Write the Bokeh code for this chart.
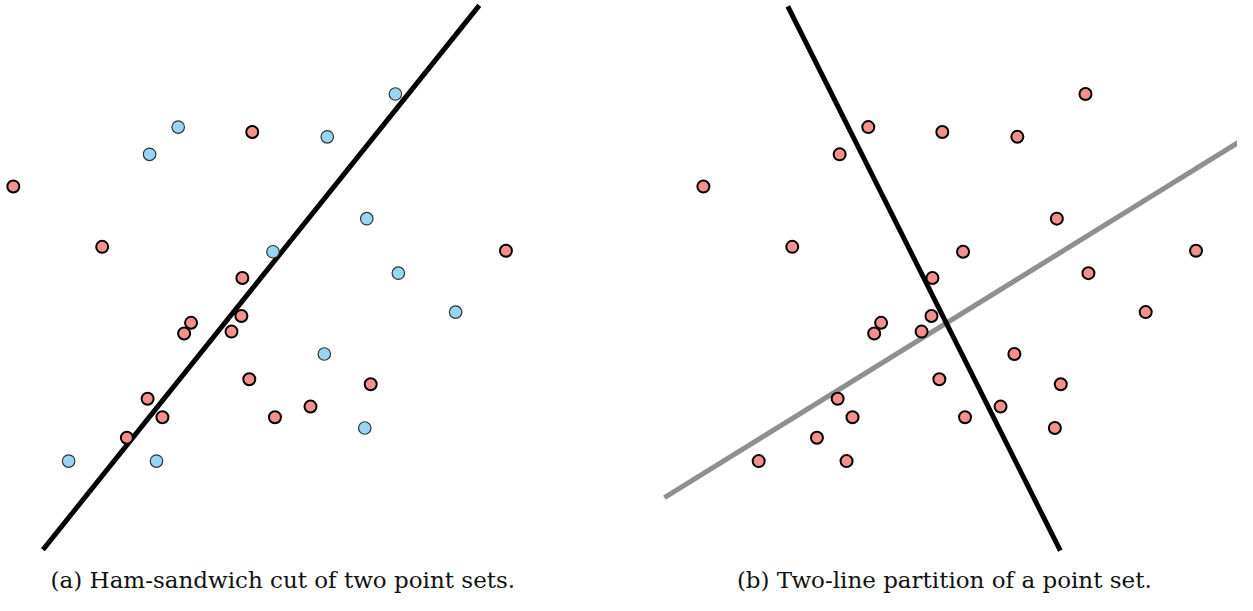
from bokeh.plotting import figure
from bokeh.layouts import row
from bokeh.models import Range1d
from bokeh.core.properties import value
from bokeh.embed import file_html
from bokeh.resources import INLINE

# Point sets (shared coordinate system, y up)
red_x = [13, 103, 255, 245, 193, 186, 244, 234, 252, 149, 164, 128, 278, 314, 375, 512]
red_y = [420, 358, 476, 326, 280, 269, 287, 271, 222, 202, 183, 162, 183, 194, 217, 354]
blue_x = [180, 151, 331, 400, 371, 276, 403, 461, 328, 369, 69, 158]
blue_y = [481, 453, 471, 515, 387, 353, 331, 291, 248, 172, 138, 138]

# Lines
cut_x = [43, 485]
cut_y = [47, 606]
part1_x = [98.5, 374.5]
part1_y = [605, 46]
part2_x = [-26.5, 556]
part2_y = [100.5, 466]

captions = ["(a) Ham-sandwich cut of two point sets.", "(b) Two-line partition of a point set."]
caption_x = [286, 257]
caption_y = [16, 16]

RED = "#f4918e"
BLUE = "#97d5f2"


def base(width, x0, x1):
    p = figure(width=width, height=595, output_backend="svg", toolbar_location=None,
               x_range=Range1d(x0, x1), y_range=Range1d(0, 611), min_border=0)
    p.axis.visible = False
    p.grid.visible = False
    p.outline_line_color = None
    return p


SPLIT = 626 * 1253 / 1237

pa = base(626, 0, SPLIT)
pa.line(cut_x, cut_y, line_color="black", line_width=5)
pa.scatter(red_x, red_y, size=12, fill_color=RED, line_color="black", line_width=2)
pa.scatter(blue_x, blue_y, size=12.5, fill_color=BLUE, line_color="#333333", line_width=1.2)
pa.text(x=[caption_x[0]], y=[caption_y[0]], text=[captions[0]], text_align="center",
        text_baseline="alphabetic", text_font=value("DejaVu Serif"), text_font_size="23px",
        text_color="#111111")

pb = base(611, SPLIT - 699, 1253 - 699)
pb.line(part2_x, part2_y, line_color="#8f8f8f", line_width=5)
pb.line(part1_x, part1_y, line_color="black", line_width=5)
pb.scatter(red_x + blue_x, red_y + blue_y, size=12, fill_color=RED, line_color="black", line_width=2)
pb.text(x=[caption_x[1]], y=[caption_y[1]], text=[captions[1]], text_align="center",
        text_baseline="alphabetic", text_font=value("DejaVu Serif"), text_font_size="23px",
        text_color="#111111")

layout = row(pa, pb)
open("out.html", "w").write(file_html(layout, INLINE))
